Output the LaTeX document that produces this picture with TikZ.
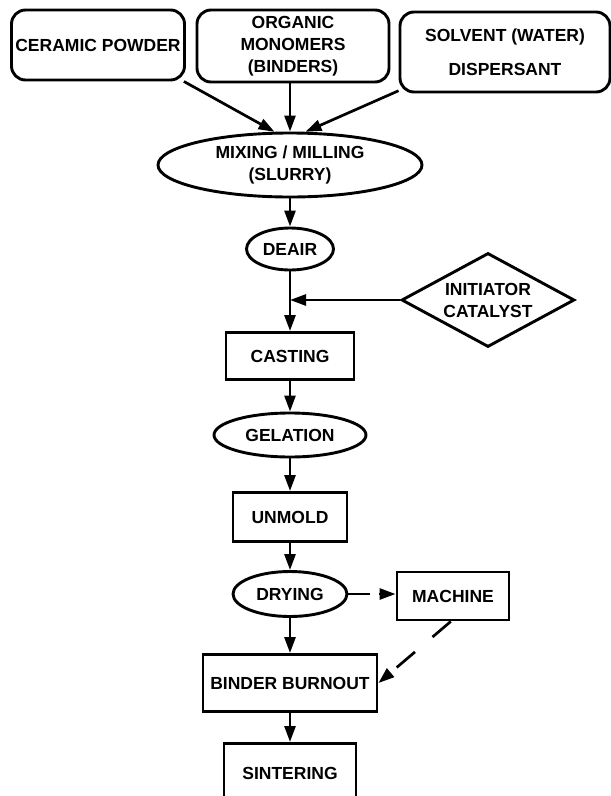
\documentclass[tikz,border=0pt]{standalone}
\usepackage{fontspec}
\setmainfont{Liberation Sans}
\usetikzlibrary{shapes.geometric,arrows.meta}
\begin{document}
\begin{tikzpicture}[x=1pt,y=-1pt,
    every node/.style={font=\bfseries\fontsize{17.5}{22}\selectfont,align=center,inner sep=0pt,line width=2.9pt},
    supply/.style={draw,rounded corners=14pt},
    oval/.style={draw,ellipse},
    stepbox/.style={draw,rectangle},
    feed/.style={draw,diamond,aspect=1.84},
    flow/.style={-{Triangle[length=16pt,width=11pt]},line width=2.7pt},
    side/.style={flow,dash pattern=on 22pt off 9pt}]
  \useasboundingbox (0,0) rectangle (611,796);
  % raw materials
  \node[supply,minimum width=173pt,minimum height=70pt] at (98,45) (powder) {CERAMIC POWDER};
  \node[supply,minimum width=192pt,minimum height=72pt] at (293,46) (monomer) {ORGANIC\\MONOMERS\\(BINDERS)};
  \node[supply,minimum width=210pt,minimum height=80pt] at (505,52) (solvent) {SOLVENT (WATER)\\[12pt]DISPERSANT};
  % process steps
  \node[oval,minimum width=264pt,minimum height=64pt] at (290,165) (mixing) {MIXING / MILLING\\(SLURRY)};
  \node[oval,minimum width=87pt,minimum height=42pt] at (290,249) (deair) {DEAIR};
  \node[feed,minimum width=173pt,minimum height=94pt] at (488,300) (initiator) {INITIATOR\\CATALYST};
  \node[stepbox,minimum width=128pt,minimum height=47pt] at (290,356) (casting) {CASTING};
  \node[oval,minimum width=152pt,minimum height=44pt] at (290,435) (gelation) {GELATION};
  \node[stepbox,minimum width=114pt,minimum height=49pt] at (290,517) (unmold) {UNMOLD};
  \node[oval,minimum width=114pt,minimum height=45pt] at (290,594) (drying) {DRYING};
  \node[stepbox,minimum width=112pt,minimum height=48pt] at (453,596) (machine) {MACHINE};
  \node[stepbox,minimum width=174pt,minimum height=57pt] at (290,683) (burnout) {BINDER BURNOUT};
  \node[stepbox,minimum width=132pt,minimum height=60pt,anchor=north] at (290,742) (sintering) {SINTERING};
  % connectors
  \draw[flow] (powder.-23) -- (mixing.115);
  \draw[flow] (monomer.south -| mixing.north) -- (mixing.north);
  \draw[flow] (solvent.200) -- (mixing.65);
  \draw[flow] (mixing) -- (deair);
  \draw[flow] (deair) -- (casting);
  \draw[flow] (initiator.west) -- (initiator.west -| deair.south);
  \draw[flow] (casting) -- (gelation);
  \draw[flow] (gelation) -- (unmold);
  \draw[flow] (unmold) -- (drying);
  \draw[flow] (drying) -- (burnout);
  \draw[flow] (burnout) -- (sintering);
  \draw[side] (drying.east) -- (drying.east -| machine.west);
  \draw[side,dash pattern=on 24pt off 23pt] (machine.-95) -- (burnout.east);
\end{tikzpicture}
\end{document}
